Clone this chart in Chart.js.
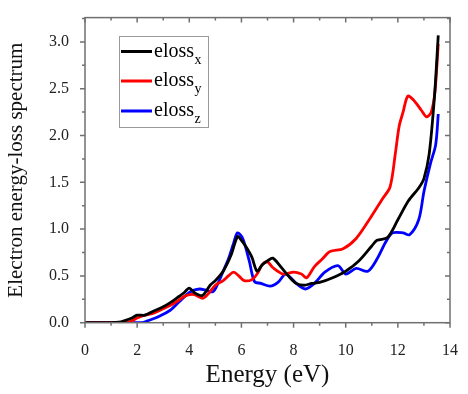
<!DOCTYPE html>
<html>
<head>
<meta charset="utf-8">
<script src="https://cdn.jsdelivr.net/npm/chart.js@4.4.1/dist/chart.umd.min.js"></script>
<style>
html,body{margin:0;padding:0;background:#fff;}
#wrap{width:468px;height:394px;}
</style>
</head>
<body>
<div id="wrap"><canvas id="c" width="468" height="394"></canvas></div>
<script>
// ---- data ----
const xTicks = [0, 2, 4, 6, 8, 10, 12, 14];
const yTicks = [0.0, 0.5, 1.0, 1.5, 2.0, 2.5, 3.0];
const seriesNames = ["x", "y", "z"];

const energyX = [0,0.5,1.0,1.3,1.5,1.8,2.0,2.3,2.6,3.0,3.3,3.6,3.8,4.0,4.2,4.5,4.8,5.0,5.3,5.6,5.85,6.0,6.2,6.4,6.6,6.8,7.0,7.2,7.5,7.8,8.1,8.4,8.7,9.0,9.5,10.0,10.5,11.0,11.2,11.6,12.0,12.4,12.8,13.0,13.2,13.4,13.55];
const elossX  = [0,0,0,0.005,0.02,0.05,0.08,0.08,0.12,0.17,0.22,0.28,0.32,0.37,0.32,0.29,0.40,0.45,0.55,0.72,0.92,0.88,0.80,0.70,0.55,0.62,0.66,0.69,0.60,0.50,0.42,0.40,0.42,0.43,0.48,0.55,0.66,0.82,0.88,0.91,1.10,1.30,1.44,1.54,1.80,2.40,3.07];

const energyY = [0,0.5,1.0,1.6,1.8,2.0,2.3,2.6,3.0,3.3,3.6,3.8,4.0,4.2,4.5,4.7,5.0,5.3,5.5,5.7,5.9,6.1,6.4,6.6,6.8,7.0,7.2,7.6,8.0,8.3,8.5,8.8,9.1,9.4,9.9,10.4,10.9,11.4,11.7,11.9,12.05,12.2,12.38,12.6,12.9,13.1,13.28,13.42,13.55];
const elossY  = [0,0,0,0,0.02,0.05,0.08,0.10,0.15,0.19,0.24,0.28,0.30,0.30,0.26,0.30,0.40,0.45,0.50,0.54,0.50,0.45,0.46,0.52,0.62,0.65,0.59,0.52,0.54,0.52,0.48,0.60,0.68,0.76,0.79,0.90,1.10,1.32,1.45,1.80,2.10,2.25,2.42,2.38,2.27,2.20,2.25,2.46,2.98];

const energyZ = [0,0.5,1.0,1.5,2.2,2.4,2.7,3.0,3.3,3.6,3.9,4.1,4.4,4.6,4.9,5.1,5.3,5.5,5.7,5.85,6.05,6.3,6.5,6.75,7.1,7.4,7.7,8.1,8.45,8.8,9.2,9.7,10.0,10.4,10.85,11.2,11.55,11.8,12.2,12.45,12.8,13.0,13.25,13.45,13.55];
const elossZ  = [0,0,0,0,0,0.02,0.05,0.09,0.14,0.22,0.30,0.34,0.36,0.35,0.33,0.42,0.55,0.68,0.85,0.96,0.90,0.66,0.44,0.42,0.39,0.43,0.52,0.42,0.36,0.42,0.54,0.61,0.52,0.58,0.55,0.68,0.87,0.96,0.96,0.94,1.10,1.40,1.70,1.90,2.23];

const colors = ["#000000", "#ff0000", "#0000ff"];

function pts(xs, ys){ return xs.map((x,i)=>({x:x, y:ys[i]})); }

const SERIF = "'Liberation Serif', 'Times New Roman', serif";
Chart.defaults.font.family = SERIF;

const framePlugin = {
  id: 'frame',
  afterDraw(chart){
    const ctx = chart.ctx, a = chart.chartArea;
    const xs = chart.scales.x, ys = chart.scales.y;
    ctx.save();
    ctx.strokeStyle = '#707070';
    ctx.lineWidth = 1.5;
    ctx.strokeRect(a.left, a.top, a.right - a.left, a.bottom - a.top);
    ctx.beginPath();
    for (let v = 0; v <= 14; v += 1) {
      const px = xs.getPixelForValue(v);
      const len = (v % 2 === 0) ? 5 : 3;
      ctx.moveTo(px, a.bottom); ctx.lineTo(px, a.bottom + len);
      ctx.moveTo(px, a.top); ctx.lineTo(px, a.top + len);
    }
    for (let k = 0; k <= 13; k++) {
      const v = k * 0.25;
      const py = ys.getPixelForValue(v);
      const len = (k % 2 === 0) ? 5 : 3;
      ctx.moveTo(a.left, py); ctx.lineTo(a.left - len, py);
      ctx.moveTo(a.right, py); ctx.lineTo(a.right - len, py);
    }
    ctx.stroke();

    // legend
    const bx = 119, by = 36, bw = 89, bh = 91;
    ctx.lineWidth = 1;
    ctx.strokeStyle = '#9a9a9a';
    ctx.strokeRect(bx + 0.5, by + 0.5, bw, bh);
    const rows = [51.5, 81, 111];
    seriesNames.forEach((n, i) => {
      ctx.strokeStyle = colors[i];
      ctx.lineWidth = 3;
      ctx.beginPath();
      ctx.moveTo(121, rows[i]); ctx.lineTo(152, rows[i]);
      ctx.stroke();
      ctx.fillStyle = '#000';
      ctx.textBaseline = 'alphabetic';
      ctx.textAlign = 'left';
      ctx.font = '20px ' + SERIF;
      ctx.fillText('eloss', 154, rows[i] + 5);
      const w = ctx.measureText('eloss').width;
      ctx.font = '14px ' + SERIF;
      ctx.fillText(n, 154 + w + 0.5, rows[i] + 12);
    });
    ctx.restore();
  }
};

new Chart(document.getElementById('c'), {
  type: 'line',
  data: {
    datasets: [
      {label: 'eloss_x', data: pts(energyX, elossX), borderColor: colors[0], borderWidth: 2.8, pointRadius: 0, tension: 0.3, fill: false},
      {label: 'eloss_y', data: pts(energyY, elossY), borderColor: colors[1], borderWidth: 2.8, pointRadius: 0, tension: 0.3, fill: false},
      {label: 'eloss_z', data: pts(energyZ, elossZ), borderColor: colors[2], borderWidth: 2.8, pointRadius: 0, tension: 0.3, fill: false}
    ]
  },
  options: {
    responsive: false,
    animation: false,
    layout: {padding: {top: 14, right: 6, left: 0, bottom: 0}},
    plugins: {legend: {display: false}, tooltip: {enabled: false}},
    scales: {
      x: {
        type: 'linear', min: 0, max: 14,
        afterFit(s){ s.height = 71.3; },
        afterBuildTicks(s){ s.ticks = xTicks.map(v => ({value: v})); },
        grid: {display: false},
        border: {display: false},
        ticks: {color: '#222', font: {family: SERIF, size: 16}, padding: 10, maxRotation: 0,
                callback: v => String(v)},
        title: {display: true, text: 'Energy (eV)', color: '#111', font: {family: SERIF, size: 25}, padding: {top: 6}}
      },
      y: {
        type: 'linear', min: 0, max: 3.26,
        afterFit(s){ s.width = 85; },
        afterBuildTicks(s){ s.ticks = yTicks.map(v => ({value: v})); },
        grid: {display: false},
        border: {display: false},
        ticks: {color: '#222', font: {family: SERIF, size: 16}, padding: 8,
                callback: v => v.toFixed(1)},
        title: {display: true, text: 'Electron energy-loss spectrum', color: '#111', font: {family: SERIF, size: 21}, padding: {bottom: 4}}
      }
    }
  },
  plugins: [framePlugin]
});
</script>
</body>
</html>
